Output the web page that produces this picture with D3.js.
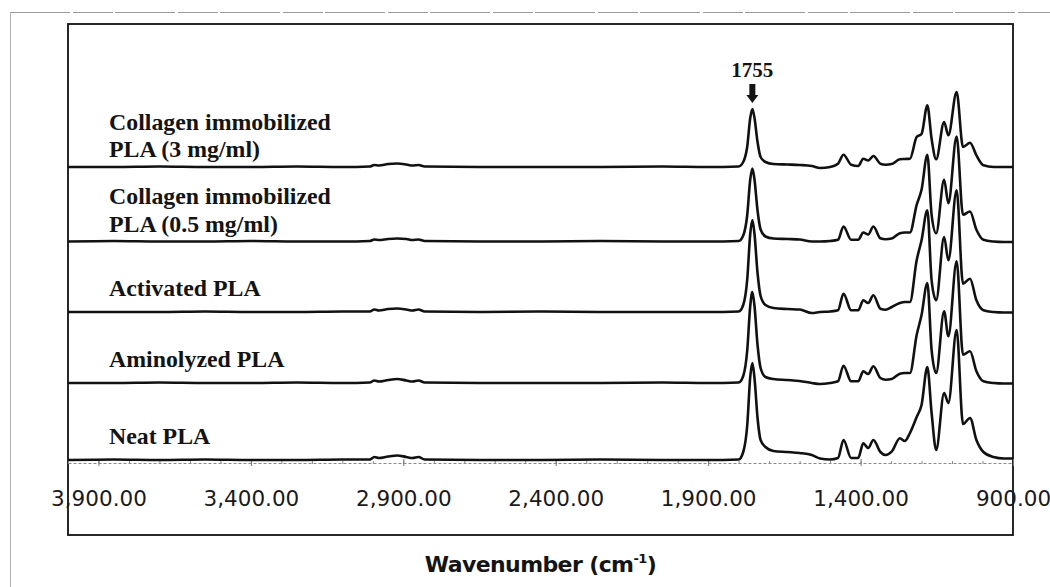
<!DOCTYPE html>
<html>
<head>
<meta charset="utf-8">
<script src="https://cdn.jsdelivr.net/npm/d3@7"></script>
<style>
  html, body { margin: 0; padding: 0; background: #ffffff; }
  svg { display: block; }
</style>
</head>
<body>
<svg id="chart" width="1050" height="587"></svg>
<script>
// FTIR spectra of PLA films, stacked (absorbance in arbitrary units)
const wavenumbers = [
  4000, 3850, 3700, 3550, 3400, 3250, 3100,
  3010, 2995, 2980, 2950, 2920, 2890, 2870, 2850, 2830,
  2650, 2450, 2250, 2050, 1900, 1800,
  1785, 1772, 1762, 1755, 1748, 1738, 1728, 1712, 1686,
  1640, 1600, 1560, 1533, 1500,
  1474, 1456, 1431, 1408, 1391, 1375, 1358, 1335, 1318, 1298,
  1271, 1255, 1238, 1216, 1200, 1181, 1167, 1152,
  1126, 1112, 1085, 1064, 1041, 1020, 997, 964, 930, 900
];

const neatPLA = [
  0, 0.5, 0, 0.5, 0, 0, 0.5,
  0.5, 3, 2, 3.5, 4.5, 3, 2, 3, 0.5,
  0, 0, 0.5, 0, 0, 0.5,
  8, 34, 83, 97, 82, 42, 20, 13, 9,
  8, 7, 5, 1.5, 0.5,
  2, 20, 2, 2, 16.7, 12, 20, 8, 5, 8.3,
  21.7, 19, 27, 43, 55, 93, 47, 10,
  67, 57, 130, 36, 42, 20, 8, 3, 1.5, 1.5
];

const aminolyzedPLA = [
  0, 0, 0.5, 0, 0, 0.5, 0,
  0.5, 2.5, 1.5, 3, 4, 2.5, 1.5, 2.5, 0.5,
  0, 0, 0, 0.5, 0, 0.5,
  7, 32, 77, 91, 77, 38, 15, 6, 4,
  3, 2, 0, -1, 0,
  1.7, 17.3, 1.7, 1.7, 11.7, 9, 16.7, 5, 3.3, 4,
  9.3, 10, 10, 48, 68, 100, 33, 10,
  71.7, 46.7, 121.7, 28.3, 31.7, 11.7, 1.7, 0, -0.5, -0.5
];

const activatedPLA = [
  0, 0, 0, 0.5, 0, 0, 0.5,
  0.5, 2.5, 1.5, 3, 3.5, 2.5, 1.5, 2.5, 0.5,
  0, 0.5, 0, 0, 0, 0.5,
  7, 32, 78, 92, 78, 39, 16, 7, 4,
  3, 2.5, -1, 0, 0.5,
  1.7, 18.3, 1.7, 1.7, 11.7, 9, 16.7, 3.3, 2.3, 5,
  9, 10, 10, 51.7, 71.7, 101.7, 31.7, 11.7,
  75, 51.7, 121.7, 28.3, 33.3, 11.7, 1.7, 0, -0.5, -0.5
];

const collagen05PLA = [
  0, 0.5, 0, 0, 0.5, 0, 0,
  0.5, 2, 1.5, 2.5, 3, 2.5, 1.5, 2, 0.5,
  0, 0, 0.5, 0, 0, 0.5,
  6, 26, 62, 73, 62, 31, 12, 5, 3,
  2.5, 2, 0, 0, 0.5,
  1.7, 15, 1.7, 1.7, 9, 7, 15, 3.3, 2.3, 3,
  8.3, 9, 9, 36.7, 51.7, 86.7, 26.7, 8.3,
  61.7, 38.3, 105, 26.7, 30, 11.7, 1.7, 0, -0.5, -0.5
];

const collagen3PLA = [
  0, 0, 0.5, 0, 0, 0.5, 0,
  0.5, 2, 1.5, 3, 3.5, 2.5, 1.5, 2, 0.5,
  0, 0, 0, 0.5, 0, 0.5,
  5, 20, 49, 58, 49, 25, 10, 5, 3,
  2.5, 2, 1, -1, 0,
  3.3, 12.3, 2.3, 1, 8.3, 6.5, 11, 3.3, 2.3, 3,
  7.7, 8, 8.3, 30, 33, 61.7, 28, 7.7,
  45, 31.7, 75, 20, 24.3, 11.7, 1.7, 0, 0, 0
];

// bottom to top
const seriesValues = [neatPLA, aminolyzedPLA, activatedPLA, collagen05PLA, collagen3PLA];
const seriesLabels = [
  ["Neat PLA"],
  ["Aminolyzed PLA"],
  ["Activated PLA"],
  ["Collagen immobilized", "PLA (0.5 mg/ml)"],
  ["Collagen immobilized", "PLA (3 mg/ml)"]
];
const stackOffsets = [0, 77, 148, 218.5, 293];

const tickValues = [3900, 3400, 2900, 2400, 1900, 1400, 900];
const markedPeak = 1755;

// ---- drawing ----
const svg = d3.select("#chart");
const box = { left: 68, top: 24, right: 1013, bottom: 535 };

const x = d3.scaleLinear().domain([4000, 900]).range([box.left, box.right]);
const y = d3.scaleLinear().domain([0, 300]).range([460, 160]);

// page frame
svg.append("line")
  .attr("x1", 10).attr("x2", 1050).attr("y1", 12.5).attr("y2", 12.5)
  .attr("stroke", "#9a9a9a").attr("stroke-width", 1.2).attr("stroke-dasharray", "60,3,40,2");
svg.append("line")
  .attr("x1", 10.5).attr("x2", 10.5).attr("y1", 12).attr("y2", 587)
  .attr("stroke", "#b0b0b0").attr("stroke-width", 1);

// plot box
svg.append("rect")
  .attr("x", box.left).attr("y", box.top)
  .attr("width", box.right - box.left).attr("height", box.bottom - box.top)
  .attr("fill", "none").attr("stroke", "#111").attr("stroke-width", 1.8);

// axis ticks
const minorTicks = d3.range(4000, 899, -100);
const minorAxis = svg.append("g").attr("transform", "translate(0,461)")
  .call(d3.axisBottom(x).tickValues(minorTicks).tickFormat("").tickSizeInner(3).tickSizeOuter(0));
minorAxis.select(".domain").remove();
minorAxis.selectAll(".tick line").attr("stroke", "#8a8a8a").attr("stroke-width", 1);

const axisG = svg.append("g").attr("transform", "translate(0,463)")
  .call(d3.axisBottom(x).tickValues(tickValues).tickFormat(d3.format(",.2f"))
    .tickSizeInner(4).tickSizeOuter(0));
axisG.select(".domain")
  .attr("stroke", "#8a8a8a").attr("stroke-width", 1).attr("stroke-dasharray", "3,2");
axisG.selectAll(".tick line")
  .attr("stroke", "#777").attr("y1", -4).attr("y2", 3);
axisG.selectAll(".tick text")
  .attr("y", 43).attr("dy", 0)
  .attr("font-family", "'DejaVu Sans', Verdana, sans-serif")
  .attr("font-size", 21.5)
  .attr("fill", "#1a1a1a");

// spectra
const line = d3.line()
  .x(d => x(d[0]))
  .y(d => y(d[1]))
  .curve(d3.curveMonotoneX);

seriesValues.forEach((vals, i) => {
  const pts = wavenumbers.map((w, k) => [w, vals[k] + stackOffsets[i]]);
  svg.append("path")
    .datum(pts)
    .attr("d", line)
    .attr("fill", "none")
    .attr("stroke", "#111")
    .attr("stroke-width", 2.6)
    .attr("stroke-linejoin", "round");
});

// series labels
seriesLabels.forEach((lines, i) => {
  const base = y(stackOffsets[i]);
  const last = base - (lines.length > 1 ? 10 : 16);
  lines.forEach((txt, j) => {
    const yy = last - (lines.length - 1 - j) * 27.5;
    svg.append("g")
      .attr("transform", `translate(109,${yy}) scale(1.06,1)`)
      .append("text")
      .attr("x", 0).attr("y", 0)
      .attr("font-family", "'Liberation Serif', 'Times New Roman', serif")
      .attr("font-weight", "bold")
      .attr("font-size", 22.5)
      .attr("fill", "#141414")
      .text(txt);
  });
});

// peak marker
const px = x(markedPeak);
svg.append("text")
  .attr("x", px).attr("y", 77)
  .attr("text-anchor", "middle")
  .attr("font-family", "'Liberation Serif', 'Times New Roman', serif")
  .attr("font-weight", "bold")
  .attr("font-size", 21)
  .attr("fill", "#141414")
  .text(String(markedPeak));
svg.append("path")
  .attr("d", `M${px - 3},84 L${px + 3},84 L${px + 3},95 L${px + 6},95 L${px},103 L${px - 6},95 L${px - 3},95 Z`)
  .attr("fill", "#141414");

// axis title
const title = svg.append("text")
  .attr("x", (box.left + box.right) / 2).attr("y", 572)
  .attr("text-anchor", "middle")
  .attr("font-family", "'DejaVu Sans', Verdana, sans-serif")
  .attr("font-weight", "bold")
  .attr("font-size", 22)
  .attr("letter-spacing", -0.6)
  .attr("fill", "#141414");
title.append("tspan").text("Wavenumber (cm");
title.append("tspan").attr("font-size", 13).attr("dy", -9).text("-1");
title.append("tspan").attr("dy", 9).text(")");
</script>
</body>
</html>
